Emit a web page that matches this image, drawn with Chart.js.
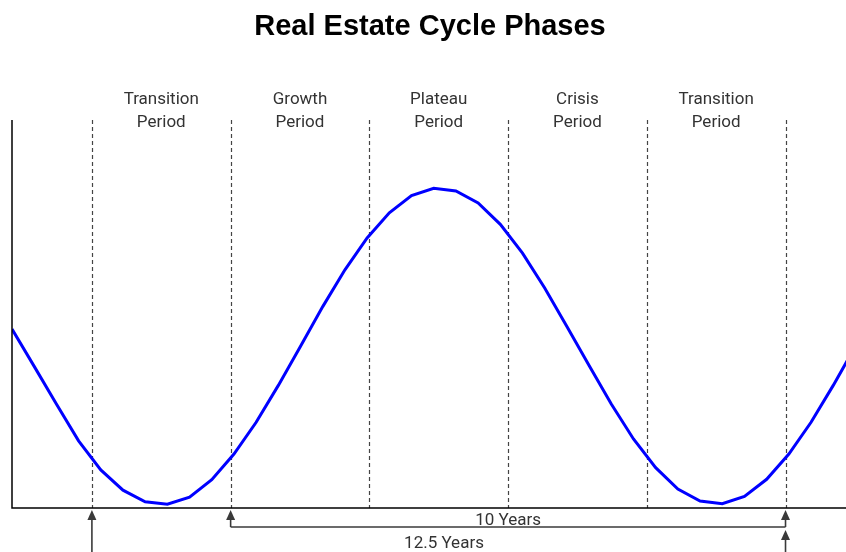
<!DOCTYPE html>
<html>
<head>
<meta charset="utf-8">
<script src="https://cdn.jsdelivr.net/npm/chart.js@4/dist/chart.umd.min.js"></script>
<style>
	html, body { margin: 0; padding: 0; background: #fff; }
	#chart { display: block; }
</style>
</head>
<body>
<canvas id="chart" width="846" height="552"></canvas>
<script>

// years since start of the drawing, sampled every 0.4 years
const years = [
	0, 0.4, 0.8, 1.2, 1.6, 2.0, 2.4, 2.8, 3.2, 3.6,
	4.0, 4.4, 4.8, 5.2, 5.6, 6.0, 6.4, 6.8, 7.2, 7.6,
	8.0, 8.4, 8.8, 9.2, 9.6, 10.0, 10.4, 10.8, 11.2, 11.6,
	12.0, 12.4, 12.8, 13.2, 13.6, 14.0, 14.4, 14.8, 15.2
];
// market level (arbitrary units, 0-100)
const marketLevel = [
	46.1, 36.5, 26.8, 17.3, 9.8, 4.6, 1.6, 1.0, 2.8, 7.3,
	13.9, 22.1, 31.6, 41.7, 51.9, 61.4, 69.6, 76.1, 80.5, 82.4,
	81.7, 78.6, 73.1, 65.7, 56.7, 46.8, 36.7, 26.8, 17.8, 10.4,
	4.9, 1.8, 1.1, 3.0, 7.4, 13.9, 22.1, 31.6, 41.7
];

const phaseBounds = [1.44, 3.94, 6.44, 8.94, 11.44, 13.94];
const phaseLabels = [
	['Transition', 'Period'],
	['Growth', 'Period'],
	['Plateau', 'Period'],
	['Crisis', 'Period'],
	['Transition', 'Period']
];

// spans drawn under the axis: [from, to, label]
const spanTenYears = [3.94, 13.94, '10 Years'];
const spanTwelveHalf = [1.44, 13.94, '12.5 Years'];

const titleText = 'Real Estate Cycle Phases';

const ink = '#3a3a3a';
const labelFont = '17px "Roboto", "Liberation Sans", sans-serif';


function arrowUp(ctx, x, yTop, yBottom){
	ctx.beginPath();
	ctx.moveTo(x, yBottom);
	ctx.lineTo(x, yTop + 8);
	ctx.stroke();
	ctx.beginPath();
	ctx.moveTo(x, yTop);
	ctx.lineTo(x - 4.5, yTop + 10);
	ctx.lineTo(x + 4.5, yTop + 10);
	ctx.closePath();
	ctx.fill();
}

const cyclePlugin = {
	id: 'cycle',
	beforeDatasetsDraw(chart){
		const ctx = chart.ctx;
		const area = chart.chartArea;
		const xs = chart.scales.x;

		// dashed phase dividers
		ctx.save();
		ctx.strokeStyle = '#444';
		ctx.lineWidth = 1.2;
		ctx.setLineDash([4, 3]);
		phaseBounds.forEach( (b) => {
			const px = Math.round(xs.getPixelForValue(b)) + 0.5;
			ctx.beginPath();
			ctx.moveTo(px, area.top);
			ctx.lineTo(px, area.bottom);
			ctx.stroke();
		});
		ctx.restore();

		// phase names above the plot
		ctx.save();
		ctx.fillStyle = '#333';
		ctx.font = labelFont;
		ctx.textAlign = 'center';
		ctx.textBaseline = 'middle';
		for (var i = 0; i < phaseLabels.length; i++) {
			const mid = (xs.getPixelForValue(phaseBounds[i]) + xs.getPixelForValue(phaseBounds[i+1])) / 2;
			ctx.fillText(phaseLabels[i][0], mid, 100);
			ctx.fillText(phaseLabels[i][1], mid, 123);
		}
		ctx.restore();
	},
	afterDatasetsDraw(chart){
		const ctx = chart.ctx;
		const area = chart.chartArea;
		const xs = chart.scales.x;

		// left and bottom spines
		ctx.save();
		ctx.strokeStyle = '#000';
		ctx.lineWidth = 1.5;
		ctx.beginPath();
		ctx.moveTo(area.left, area.top);
		ctx.lineTo(area.left, area.bottom);
		ctx.lineTo(chart.width, area.bottom);
		ctx.stroke();
		ctx.restore();

		// title
		ctx.save();
		ctx.fillStyle = '#000';
		ctx.font = 'bold 29px "Liberation Sans", Arial, sans-serif';
		ctx.textAlign = 'center';
		ctx.textBaseline = 'middle';
		ctx.fillText(titleText, 430, 27);
		ctx.restore();

		// duration arrows below the axis
		ctx.save();
		ctx.strokeStyle = ink;
		ctx.fillStyle = ink;
		ctx.lineWidth = 1.6;
		const yTen = 527;
		const a = xs.getPixelForValue(spanTenYears[0]);
		const b = xs.getPixelForValue(spanTenYears[1]);
		const c = xs.getPixelForValue(spanTwelveHalf[0]);

		arrowUp(ctx, a, area.bottom + 2, yTen);
		arrowUp(ctx, b, area.bottom + 2, yTen);
		ctx.beginPath();
		ctx.moveTo(a, yTen);
		ctx.lineTo(b, yTen);
		ctx.stroke();

		arrowUp(ctx, c, area.bottom + 2, chart.height);
		arrowUp(ctx, b, yTen + 3, chart.height);

		ctx.font = labelFont;
		ctx.textAlign = 'center';
		ctx.textBaseline = 'middle';
		ctx.fillStyle = '#333';
		ctx.fillText(spanTenYears[2], (a + b) / 2, 521);
		ctx.fillText(spanTwelveHalf[2], 444, 544);
		ctx.restore();
	}
};

new Chart(document.getElementById('chart'), {
	type: 'line',
	data: {
		datasets: [{
			data: years.map( (t, i) => ({ x: t, y: marketLevel[i] }) ),
			borderColor: '#0000ff',
			borderWidth: 3,
			pointRadius: 0,
			tension: 0,
			fill: false,
			clip: 0
		}]
	},
	options: {
		responsive: false,
		animation: false,
		layout: { padding: { left: 12, top: 120, right: 0, bottom: 44 } },
		plugins: {
			legend: { display: false },
			tooltip: { enabled: false },
			title: { display: false }
		},
		scales: {
			x: { type: 'linear', min: 0, max: 15.03, display: false },
			y: { min: 0, max: 100, display: false }
		}
	},
	plugins: [cyclePlugin]
});
</script>
</body>
</html>
